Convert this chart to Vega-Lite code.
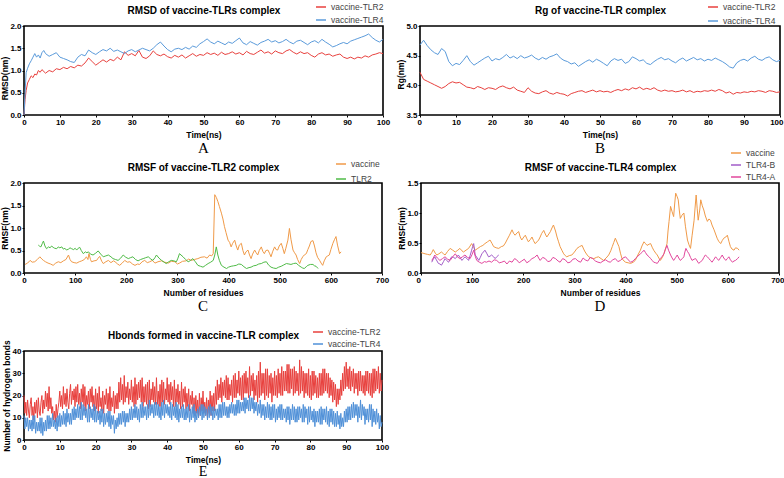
{
  "$schema": "https://vega.github.io/schema/vega-lite/v6.json",
  "background": "white",
  "padding": {"left": 0, "top": 0, "right": 0, "bottom": 0},
  "datasets": {
    "rmsdTLR2": [{"t":0,"v":0},{"t":0.3,"v":0.35},{"t":0.6,"v":0.55},{"t":1,"v":0.72},{"t":1.5,"v":0.8},{"t":2,"v":0.88},{"t":2.5,"v":0.84},{"t":3,"v":0.92},{"t":3.5,"v":0.9},{"t":4,"v":1.0},{"t":4.5,"v":0.96},{"t":5,"v":1.02},{"t":6,"v":0.94},{"t":7,"v":1.0},{"t":8,"v":0.97},{"t":9,"v":1.04},{"t":10,"v":1.02},{"t":11,"v":1.07},{"t":12,"v":1.04},{"t":13,"v":1.09},{"t":14,"v":1.06},{"t":15,"v":1.12},{"t":16,"v":1.1},{"t":17,"v":1.17},{"t":18,"v":1.28},{"t":19,"v":1.2},{"t":20,"v":1.12},{"t":21,"v":1.18},{"t":22,"v":1.24},{"t":23,"v":1.19},{"t":24,"v":1.25},{"t":25,"v":1.22},{"t":26,"v":1.3},{"t":27,"v":1.24},{"t":28,"v":1.42},{"t":29,"v":1.34},{"t":30,"v":1.38},{"t":31,"v":1.33},{"t":32,"v":1.45},{"t":33,"v":1.3},{"t":34,"v":1.27},{"t":35,"v":1.33},{"t":36,"v":1.44},{"t":37,"v":1.36},{"t":38,"v":1.33},{"t":39,"v":1.37},{"t":40,"v":1.31},{"t":41,"v":1.28},{"t":42,"v":1.34},{"t":43,"v":1.3},{"t":44,"v":1.35},{"t":45,"v":1.28},{"t":46,"v":1.33},{"t":47,"v":1.38},{"t":48,"v":1.32},{"t":49,"v":1.36},{"t":50,"v":1.34},{"t":51,"v":1.4},{"t":52,"v":1.36},{"t":53,"v":1.39},{"t":54,"v":1.34},{"t":55,"v":1.41},{"t":56,"v":1.36},{"t":57,"v":1.38},{"t":58,"v":1.42},{"t":59,"v":1.37},{"t":60,"v":1.4},{"t":61,"v":1.35},{"t":62,"v":1.43},{"t":63,"v":1.38},{"t":64,"v":1.36},{"t":65,"v":1.41},{"t":66,"v":1.46},{"t":67,"v":1.39},{"t":68,"v":1.42},{"t":69,"v":1.37},{"t":70,"v":1.44},{"t":71,"v":1.4},{"t":72,"v":1.38},{"t":73,"v":1.44},{"t":74,"v":1.47},{"t":75,"v":1.41},{"t":76,"v":1.37},{"t":77,"v":1.42},{"t":78,"v":1.38},{"t":79,"v":1.4},{"t":80,"v":1.34},{"t":81,"v":1.3},{"t":82,"v":1.37},{"t":83,"v":1.4},{"t":84,"v":1.35},{"t":85,"v":1.37},{"t":86,"v":1.32},{"t":87,"v":1.35},{"t":88,"v":1.37},{"t":89,"v":1.3},{"t":90,"v":1.27},{"t":91,"v":1.3},{"t":92,"v":1.26},{"t":93,"v":1.3},{"t":94,"v":1.28},{"t":95,"v":1.33},{"t":96,"v":1.3},{"t":97,"v":1.35},{"t":98,"v":1.37},{"t":99,"v":1.4},{"t":100,"v":1.38}],
    "rmsdTLR4": [{"t":0,"v":0},{"t":0.3,"v":0.5},{"t":0.6,"v":0.95},{"t":1,"v":1.05},{"t":1.5,"v":1.15},{"t":2,"v":1.22},{"t":2.5,"v":1.3},{"t":3,"v":1.38},{"t":3.5,"v":1.3},{"t":4,"v":1.35},{"t":4.5,"v":1.28},{"t":5,"v":1.4},{"t":5.5,"v":1.45},{"t":6,"v":1.38},{"t":7,"v":1.32},{"t":8,"v":1.36},{"t":9,"v":1.4},{"t":10,"v":1.3},{"t":11,"v":1.27},{"t":12,"v":1.24},{"t":13,"v":1.2},{"t":14,"v":1.18},{"t":15,"v":1.3},{"t":16,"v":1.36},{"t":17,"v":1.33},{"t":18,"v":1.46},{"t":19,"v":1.4},{"t":20,"v":1.36},{"t":21,"v":1.42},{"t":22,"v":1.47},{"t":23,"v":1.44},{"t":24,"v":1.5},{"t":25,"v":1.43},{"t":26,"v":1.46},{"t":27,"v":1.42},{"t":28,"v":1.38},{"t":29,"v":1.44},{"t":30,"v":1.47},{"t":31,"v":1.42},{"t":32,"v":1.46},{"t":33,"v":1.5},{"t":34,"v":1.47},{"t":35,"v":1.44},{"t":36,"v":1.5},{"t":37,"v":1.58},{"t":38,"v":1.64},{"t":39,"v":1.55},{"t":40,"v":1.47},{"t":41,"v":1.42},{"t":42,"v":1.48},{"t":43,"v":1.5},{"t":44,"v":1.47},{"t":45,"v":1.52},{"t":46,"v":1.48},{"t":47,"v":1.55},{"t":48,"v":1.52},{"t":49,"v":1.6},{"t":50,"v":1.65},{"t":51,"v":1.71},{"t":52,"v":1.64},{"t":53,"v":1.6},{"t":54,"v":1.66},{"t":55,"v":1.62},{"t":56,"v":1.58},{"t":57,"v":1.64},{"t":58,"v":1.61},{"t":59,"v":1.67},{"t":60,"v":1.73},{"t":61,"v":1.62},{"t":62,"v":1.58},{"t":63,"v":1.65},{"t":64,"v":1.61},{"t":65,"v":1.57},{"t":66,"v":1.63},{"t":67,"v":1.66},{"t":68,"v":1.7},{"t":69,"v":1.64},{"t":70,"v":1.67},{"t":71,"v":1.62},{"t":72,"v":1.65},{"t":73,"v":1.7},{"t":74,"v":1.64},{"t":75,"v":1.6},{"t":76,"v":1.66},{"t":77,"v":1.68},{"t":78,"v":1.63},{"t":79,"v":1.58},{"t":80,"v":1.64},{"t":81,"v":1.67},{"t":82,"v":1.62},{"t":83,"v":1.7},{"t":84,"v":1.64},{"t":85,"v":1.59},{"t":86,"v":1.53},{"t":87,"v":1.56},{"t":88,"v":1.6},{"t":89,"v":1.63},{"t":90,"v":1.6},{"t":91,"v":1.66},{"t":92,"v":1.69},{"t":93,"v":1.72},{"t":94,"v":1.75},{"t":95,"v":1.78},{"t":96,"v":1.82},{"t":97,"v":1.74},{"t":98,"v":1.68},{"t":99,"v":1.64},{"t":100,"v":1.7}],
    "rgTLR2": [{"t":0,"v":4.22},{"t":1,"v":4.1},{"t":2,"v":4.07},{"t":3,"v":4.04},{"t":4,"v":4.01},{"t":5,"v":3.98},{"t":6,"v":3.95},{"t":7,"v":3.98},{"t":8,"v":4.03},{"t":9,"v":4.06},{"t":10,"v":4.04},{"t":11,"v":4.05},{"t":12,"v":4.01},{"t":13,"v":3.97},{"t":14,"v":3.96},{"t":15,"v":3.94},{"t":16,"v":3.98},{"t":17,"v":3.96},{"t":18,"v":3.93},{"t":19,"v":3.96},{"t":20,"v":3.95},{"t":21,"v":3.93},{"t":22,"v":3.97},{"t":23,"v":3.99},{"t":24,"v":3.96},{"t":25,"v":3.94},{"t":26,"v":3.97},{"t":27,"v":3.92},{"t":28,"v":3.9},{"t":29,"v":3.88},{"t":30,"v":3.96},{"t":31,"v":3.9},{"t":32,"v":3.87},{"t":33,"v":3.86},{"t":34,"v":3.89},{"t":35,"v":3.91},{"t":36,"v":3.87},{"t":37,"v":3.85},{"t":38,"v":3.88},{"t":39,"v":3.86},{"t":40,"v":3.85},{"t":41,"v":3.82},{"t":42,"v":3.86},{"t":43,"v":3.88},{"t":44,"v":3.9},{"t":45,"v":3.91},{"t":46,"v":3.88},{"t":47,"v":3.9},{"t":48,"v":3.92},{"t":49,"v":3.89},{"t":50,"v":3.91},{"t":51,"v":3.89},{"t":52,"v":3.9},{"t":53,"v":3.88},{"t":54,"v":3.91},{"t":55,"v":3.93},{"t":56,"v":3.91},{"t":57,"v":3.94},{"t":58,"v":3.92},{"t":59,"v":3.96},{"t":60,"v":3.94},{"t":61,"v":3.97},{"t":62,"v":3.93},{"t":63,"v":3.95},{"t":64,"v":3.93},{"t":65,"v":3.96},{"t":66,"v":3.92},{"t":67,"v":3.9},{"t":68,"v":3.92},{"t":69,"v":3.9},{"t":70,"v":3.91},{"t":71,"v":3.89},{"t":72,"v":3.9},{"t":73,"v":3.92},{"t":74,"v":3.89},{"t":75,"v":3.91},{"t":76,"v":3.88},{"t":77,"v":3.9},{"t":78,"v":3.89},{"t":79,"v":3.91},{"t":80,"v":3.9},{"t":81,"v":3.92},{"t":82,"v":3.9},{"t":83,"v":3.93},{"t":84,"v":3.91},{"t":85,"v":3.87},{"t":86,"v":3.89},{"t":87,"v":3.85},{"t":88,"v":3.88},{"t":89,"v":3.87},{"t":90,"v":3.89},{"t":91,"v":3.88},{"t":92,"v":3.9},{"t":93,"v":3.89},{"t":94,"v":3.91},{"t":95,"v":3.9},{"t":96,"v":3.88},{"t":97,"v":3.91},{"t":98,"v":3.9},{"t":99,"v":3.88},{"t":100,"v":3.89}],
    "rgTLR4": [{"t":0,"v":4.68},{"t":1,"v":4.76},{"t":2,"v":4.67},{"t":3,"v":4.6},{"t":4,"v":4.55},{"t":5,"v":4.52},{"t":6,"v":4.62},{"t":7,"v":4.57},{"t":8,"v":4.4},{"t":9,"v":4.33},{"t":10,"v":4.37},{"t":11,"v":4.35},{"t":12,"v":4.42},{"t":13,"v":4.5},{"t":14,"v":4.4},{"t":15,"v":4.34},{"t":16,"v":4.38},{"t":17,"v":4.42},{"t":18,"v":4.46},{"t":19,"v":4.49},{"t":20,"v":4.41},{"t":21,"v":4.45},{"t":22,"v":4.43},{"t":23,"v":4.47},{"t":24,"v":4.52},{"t":25,"v":4.46},{"t":26,"v":4.49},{"t":27,"v":4.45},{"t":28,"v":4.5},{"t":29,"v":4.46},{"t":30,"v":4.48},{"t":31,"v":4.51},{"t":32,"v":4.46},{"t":33,"v":4.43},{"t":34,"v":4.47},{"t":35,"v":4.44},{"t":36,"v":4.48},{"t":37,"v":4.5},{"t":38,"v":4.53},{"t":39,"v":4.46},{"t":40,"v":4.42},{"t":41,"v":4.4},{"t":42,"v":4.36},{"t":43,"v":4.38},{"t":44,"v":4.32},{"t":45,"v":4.36},{"t":46,"v":4.4},{"t":47,"v":4.43},{"t":48,"v":4.39},{"t":49,"v":4.44},{"t":50,"v":4.41},{"t":51,"v":4.37},{"t":52,"v":4.33},{"t":53,"v":4.41},{"t":54,"v":4.45},{"t":55,"v":4.42},{"t":56,"v":4.44},{"t":57,"v":4.37},{"t":58,"v":4.4},{"t":59,"v":4.48},{"t":60,"v":4.45},{"t":61,"v":4.41},{"t":62,"v":4.43},{"t":63,"v":4.37},{"t":64,"v":4.35},{"t":65,"v":4.4},{"t":66,"v":4.44},{"t":67,"v":4.47},{"t":68,"v":4.43},{"t":69,"v":4.45},{"t":70,"v":4.41},{"t":71,"v":4.38},{"t":72,"v":4.43},{"t":73,"v":4.46},{"t":74,"v":4.41},{"t":75,"v":4.44},{"t":76,"v":4.47},{"t":77,"v":4.43},{"t":78,"v":4.45},{"t":79,"v":4.41},{"t":80,"v":4.44},{"t":81,"v":4.42},{"t":82,"v":4.46},{"t":83,"v":4.43},{"t":84,"v":4.4},{"t":85,"v":4.36},{"t":86,"v":4.31},{"t":87,"v":4.29},{"t":88,"v":4.38},{"t":89,"v":4.42},{"t":90,"v":4.44},{"t":91,"v":4.41},{"t":92,"v":4.46},{"t":93,"v":4.49},{"t":94,"v":4.44},{"t":95,"v":4.42},{"t":96,"v":4.46},{"t":97,"v":4.48},{"t":98,"v":4.43},{"t":99,"v":4.4},{"t":100,"v":4.42}],
    "rmsfVac2": [{"r":2,"v":0.19},{"r":7,"v":0.22},{"r":12,"v":0.28},{"r":16,"v":0.24},{"r":21,"v":0.25},{"r":26,"v":0.3},{"r":31,"v":0.36},{"r":35,"v":0.31},{"r":38,"v":0.28},{"r":42,"v":0.25},{"r":47,"v":0.22},{"r":52,"v":0.2},{"r":57,"v":0.17},{"r":62,"v":0.22},{"r":67,"v":0.25},{"r":72,"v":0.23},{"r":77,"v":0.27},{"r":82,"v":0.3},{"r":87,"v":0.4},{"r":90,"v":0.3},{"r":93,"v":0.25},{"r":98,"v":0.23},{"r":103,"v":0.22},{"r":108,"v":0.25},{"r":113,"v":0.27},{"r":118,"v":0.3},{"r":122,"v":0.36},{"r":125,"v":0.3},{"r":127,"v":0.43},{"r":130,"v":0.3},{"r":132,"v":0.25},{"r":137,"v":0.27},{"r":142,"v":0.28},{"r":145,"v":0.33},{"r":148,"v":0.37},{"r":152,"v":0.26},{"r":155,"v":0.21},{"r":160,"v":0.25},{"r":165,"v":0.28},{"r":170,"v":0.23},{"r":175,"v":0.27},{"r":178,"v":0.25},{"r":183,"v":0.2},{"r":187,"v":0.17},{"r":192,"v":0.22},{"r":197,"v":0.28},{"r":202,"v":0.24},{"r":207,"v":0.25},{"r":212,"v":0.2},{"r":217,"v":0.17},{"r":222,"v":0.2},{"r":226,"v":0.19},{"r":231,"v":0.25},{"r":236,"v":0.28},{"r":241,"v":0.23},{"r":246,"v":0.25},{"r":251,"v":0.28},{"r":256,"v":0.22},{"r":262,"v":0.25},{"r":269,"v":0.27},{"r":275,"v":0.24},{"r":282,"v":0.22},{"r":288,"v":0.26},{"r":295,"v":0.25},{"r":300,"v":0.2},{"r":304,"v":0.22},{"r":310,"v":0.26},{"r":317,"v":0.27},{"r":322,"v":0.31},{"r":327,"v":0.28},{"r":333,"v":0.3},{"r":340,"v":0.32},{"r":346,"v":0.35},{"r":353,"v":0.36},{"r":358,"v":0.33},{"r":363,"v":0.4},{"r":367,"v":0.38},{"r":370,"v":0.43},{"r":373,"v":1.74},{"r":376,"v":1.68},{"r":379,"v":1.59},{"r":382,"v":1.48},{"r":386,"v":1.33},{"r":389,"v":1.2},{"r":392,"v":1.03},{"r":395,"v":0.9},{"r":399,"v":0.73},{"r":402,"v":0.68},{"r":405,"v":0.58},{"r":408,"v":0.66},{"r":412,"v":0.73},{"r":415,"v":0.6},{"r":418,"v":0.51},{"r":421,"v":0.62},{"r":425,"v":0.66},{"r":428,"v":0.5},{"r":431,"v":0.4},{"r":434,"v":0.47},{"r":438,"v":0.51},{"r":441,"v":0.4},{"r":444,"v":0.32},{"r":447,"v":0.42},{"r":451,"v":0.51},{"r":454,"v":0.45},{"r":457,"v":0.4},{"r":460,"v":0.5},{"r":464,"v":0.58},{"r":467,"v":0.48},{"r":470,"v":0.43},{"r":473,"v":0.5},{"r":477,"v":0.51},{"r":480,"v":0.44},{"r":483,"v":0.36},{"r":486,"v":0.47},{"r":490,"v":0.58},{"r":493,"v":0.52},{"r":496,"v":0.51},{"r":499,"v":0.6},{"r":503,"v":0.66},{"r":506,"v":0.55},{"r":509,"v":0.43},{"r":512,"v":0.55},{"r":516,"v":0.73},{"r":519,"v":0.99},{"r":522,"v":0.75},{"r":526,"v":0.51},{"r":529,"v":0.45},{"r":532,"v":0.4},{"r":535,"v":0.3},{"r":539,"v":0.21},{"r":542,"v":0.3},{"r":545,"v":0.36},{"r":548,"v":0.4},{"r":552,"v":0.43},{"r":555,"v":0.52},{"r":558,"v":0.6},{"r":561,"v":0.7},{"r":565,"v":0.72},{"r":568,"v":0.6},{"r":571,"v":0.45},{"r":574,"v":0.35},{"r":578,"v":0.28},{"r":581,"v":0.22},{"r":584,"v":0.17},{"r":587,"v":0.27},{"r":591,"v":0.36},{"r":594,"v":0.38},{"r":597,"v":0.4},{"r":600,"v":0.52},{"r":604,"v":0.66},{"r":607,"v":0.74},{"r":610,"v":0.81},{"r":613,"v":0.62},{"r":617,"v":0.43},{"r":620,"v":0.47}],
    "rmsfTLR2": [{"r":28,"v":0.62},{"r":30,"v":0.6},{"r":33,"v":0.58},{"r":36,"v":0.66},{"r":38,"v":0.71},{"r":41,"v":0.6},{"r":44,"v":0.54},{"r":48,"v":0.58},{"r":51,"v":0.56},{"r":54,"v":0.6},{"r":57,"v":0.57},{"r":60,"v":0.55},{"r":64,"v":0.54},{"r":67,"v":0.58},{"r":70,"v":0.56},{"r":74,"v":0.58},{"r":77,"v":0.53},{"r":80,"v":0.55},{"r":83,"v":0.51},{"r":87,"v":0.53},{"r":90,"v":0.56},{"r":93,"v":0.54},{"r":97,"v":0.52},{"r":100,"v":0.55},{"r":103,"v":0.51},{"r":106,"v":0.55},{"r":109,"v":0.57},{"r":112,"v":0.5},{"r":116,"v":0.43},{"r":120,"v":0.47},{"r":123,"v":0.45},{"r":126,"v":0.47},{"r":130,"v":0.42},{"r":135,"v":0.4},{"r":140,"v":0.44},{"r":145,"v":0.49},{"r":150,"v":0.42},{"r":155,"v":0.36},{"r":160,"v":0.38},{"r":165,"v":0.4},{"r":170,"v":0.36},{"r":174,"v":0.32},{"r":179,"v":0.3},{"r":184,"v":0.28},{"r":189,"v":0.33},{"r":194,"v":0.4},{"r":199,"v":0.35},{"r":204,"v":0.32},{"r":208,"v":0.34},{"r":213,"v":0.36},{"r":218,"v":0.3},{"r":223,"v":0.27},{"r":228,"v":0.3},{"r":233,"v":0.32},{"r":238,"v":0.34},{"r":243,"v":0.36},{"r":248,"v":0.31},{"r":252,"v":0.28},{"r":256,"v":0.34},{"r":259,"v":0.4},{"r":264,"v":0.33},{"r":269,"v":0.28},{"r":274,"v":0.24},{"r":278,"v":0.21},{"r":283,"v":0.25},{"r":288,"v":0.28},{"r":293,"v":0.27},{"r":298,"v":0.25},{"r":301,"v":0.33},{"r":304,"v":0.43},{"r":307,"v":0.4},{"r":311,"v":0.36},{"r":316,"v":0.3},{"r":321,"v":0.25},{"r":326,"v":0.28},{"r":330,"v":0.32},{"r":335,"v":0.25},{"r":340,"v":0.17},{"r":345,"v":0.15},{"r":350,"v":0.13},{"r":355,"v":0.17},{"r":360,"v":0.21},{"r":365,"v":0.24},{"r":370,"v":0.28},{"r":373,"v":0.4},{"r":376,"v":0.58},{"r":379,"v":0.4},{"r":382,"v":0.28},{"r":386,"v":0.17},{"r":391,"v":0.13},{"r":396,"v":0.1},{"r":400,"v":0.13},{"r":405,"v":0.15},{"r":410,"v":0.16},{"r":415,"v":0.17},{"r":420,"v":0.2},{"r":425,"v":0.19},{"r":430,"v":0.14},{"r":435,"v":0.1},{"r":440,"v":0.12},{"r":444,"v":0.13},{"r":449,"v":0.16},{"r":454,"v":0.17},{"r":459,"v":0.2},{"r":464,"v":0.21},{"r":469,"v":0.24},{"r":474,"v":0.25},{"r":478,"v":0.18},{"r":483,"v":0.13},{"r":488,"v":0.11},{"r":493,"v":0.1},{"r":498,"v":0.13},{"r":503,"v":0.15},{"r":508,"v":0.18},{"r":513,"v":0.21},{"r":518,"v":0.2},{"r":522,"v":0.19},{"r":527,"v":0.21},{"r":532,"v":0.22},{"r":537,"v":0.17},{"r":542,"v":0.13},{"r":545,"v":0.11},{"r":548,"v":0.1},{"r":552,"v":0.14},{"r":555,"v":0.17},{"r":560,"v":0.19},{"r":565,"v":0.19},{"r":568,"v":0.16},{"r":571,"v":0.15},{"r":575,"v":0.1}],
    "rmsfVac4": [{"r":0,"v":0.34},{"r":4,"v":0.33},{"r":8,"v":0.32},{"r":13,"v":0.31},{"r":18,"v":0.3},{"r":21,"v":0.34},{"r":24,"v":0.39},{"r":28,"v":0.33},{"r":31,"v":0.3},{"r":35,"v":0.32},{"r":40,"v":0.35},{"r":44,"v":0.32},{"r":47,"v":0.3},{"r":52,"v":0.36},{"r":57,"v":0.41},{"r":62,"v":0.38},{"r":67,"v":0.35},{"r":72,"v":0.38},{"r":76,"v":0.41},{"r":80,"v":0.37},{"r":83,"v":0.35},{"r":88,"v":0.38},{"r":93,"v":0.41},{"r":96,"v":0.45},{"r":99,"v":0.49},{"r":103,"v":0.43},{"r":106,"v":0.38},{"r":111,"v":0.41},{"r":116,"v":0.44},{"r":121,"v":0.46},{"r":125,"v":0.49},{"r":130,"v":0.52},{"r":135,"v":0.55},{"r":139,"v":0.49},{"r":142,"v":0.44},{"r":147,"v":0.42},{"r":152,"v":0.41},{"r":157,"v":0.44},{"r":161,"v":0.45},{"r":165,"v":0.5},{"r":168,"v":0.55},{"r":173,"v":0.63},{"r":178,"v":0.72},{"r":181,"v":0.66},{"r":184,"v":0.63},{"r":188,"v":0.67},{"r":191,"v":0.69},{"r":194,"v":0.6},{"r":197,"v":0.55},{"r":201,"v":0.6},{"r":204,"v":0.63},{"r":207,"v":0.57},{"r":210,"v":0.52},{"r":214,"v":0.56},{"r":217,"v":0.6},{"r":220,"v":0.54},{"r":223,"v":0.49},{"r":227,"v":0.52},{"r":230,"v":0.55},{"r":233,"v":0.6},{"r":236,"v":0.66},{"r":240,"v":0.71},{"r":243,"v":0.65},{"r":246,"v":0.6},{"r":250,"v":0.65},{"r":253,"v":0.69},{"r":256,"v":0.75},{"r":259,"v":0.8},{"r":263,"v":0.7},{"r":266,"v":0.6},{"r":269,"v":0.52},{"r":272,"v":0.44},{"r":276,"v":0.37},{"r":279,"v":0.32},{"r":282,"v":0.29},{"r":285,"v":0.27},{"r":290,"v":0.29},{"r":295,"v":0.3},{"r":300,"v":0.35},{"r":305,"v":0.41},{"r":310,"v":0.44},{"r":315,"v":0.46},{"r":318,"v":0.4},{"r":321,"v":0.35},{"r":325,"v":0.3},{"r":328,"v":0.27},{"r":333,"v":0.25},{"r":338,"v":0.24},{"r":343,"v":0.26},{"r":347,"v":0.27},{"r":352,"v":0.24},{"r":357,"v":0.21},{"r":362,"v":0.25},{"r":367,"v":0.3},{"r":371,"v":0.37},{"r":374,"v":0.44},{"r":377,"v":0.51},{"r":380,"v":0.58},{"r":384,"v":0.5},{"r":387,"v":0.44},{"r":390,"v":0.33},{"r":393,"v":0.24},{"r":397,"v":0.2},{"r":400,"v":0.18},{"r":405,"v":0.17},{"r":410,"v":0.16},{"r":415,"v":0.18},{"r":419,"v":0.21},{"r":424,"v":0.3},{"r":429,"v":0.38},{"r":432,"v":0.45},{"r":436,"v":0.52},{"r":439,"v":0.49},{"r":442,"v":0.46},{"r":446,"v":0.48},{"r":449,"v":0.49},{"r":452,"v":0.43},{"r":455,"v":0.38},{"r":459,"v":0.33},{"r":462,"v":0.3},{"r":465,"v":0.25},{"r":468,"v":0.21},{"r":472,"v":0.26},{"r":475,"v":0.32},{"r":478,"v":0.4},{"r":481,"v":0.49},{"r":483,"v":0.7},{"r":485,"v":0.86},{"r":488,"v":1.11},{"r":491,"v":1.02},{"r":494,"v":0.94},{"r":496,"v":1.15},{"r":498,"v":1.33},{"r":501,"v":1.27},{"r":503,"v":1.22},{"r":505,"v":1.05},{"r":507,"v":0.91},{"r":510,"v":0.96},{"r":514,"v":1.0},{"r":517,"v":0.78},{"r":521,"v":0.55},{"r":524,"v":0.47},{"r":527,"v":0.41},{"r":530,"v":0.62},{"r":534,"v":0.88},{"r":536,"v":1.1},{"r":538,"v":1.3},{"r":540,"v":1.08},{"r":542,"v":0.88},{"r":545,"v":1.05},{"r":547,"v":1.22},{"r":550,"v":1.12},{"r":553,"v":1.05},{"r":556,"v":0.95},{"r":560,"v":0.86},{"r":563,"v":0.9},{"r":566,"v":0.88},{"r":569,"v":0.8},{"r":573,"v":0.72},{"r":576,"v":0.65},{"r":579,"v":0.58},{"r":582,"v":0.53},{"r":586,"v":0.49},{"r":589,"v":0.54},{"r":592,"v":0.58},{"r":596,"v":0.6},{"r":599,"v":0.63},{"r":602,"v":0.53},{"r":605,"v":0.44},{"r":608,"v":0.4},{"r":612,"v":0.38},{"r":615,"v":0.42},{"r":619,"v":0.41},{"r":622,"v":0.38}],
    "rmsfTLR4B": [{"r":21,"v":0.18},{"r":24,"v":0.23},{"r":27,"v":0.27},{"r":30,"v":0.22},{"r":34,"v":0.16},{"r":37,"v":0.15},{"r":40,"v":0.13},{"r":44,"v":0.19},{"r":47,"v":0.24},{"r":50,"v":0.21},{"r":54,"v":0.18},{"r":57,"v":0.23},{"r":60,"v":0.27},{"r":64,"v":0.26},{"r":67,"v":0.24},{"r":70,"v":0.27},{"r":73,"v":0.3},{"r":77,"v":0.25},{"r":80,"v":0.21},{"r":83,"v":0.24},{"r":86,"v":0.27},{"r":90,"v":0.24},{"r":93,"v":0.21},{"r":96,"v":0.29},{"r":99,"v":0.38},{"r":101,"v":0.44},{"r":103,"v":0.49},{"r":106,"v":0.3},{"r":110,"v":0.25},{"r":113,"v":0.21},{"r":116,"v":0.26},{"r":119,"v":0.32},{"r":122,"v":0.35},{"r":125,"v":0.38},{"r":129,"v":0.32},{"r":132,"v":0.27},{"r":135,"v":0.28},{"r":138,"v":0.3},{"r":142,"v":0.27},{"r":145,"v":0.24},{"r":148,"v":0.27},{"r":152,"v":0.3}],
    "rmsfTLR4A": [{"r":21,"v":0.21},{"r":24,"v":0.25},{"r":27,"v":0.3},{"r":32,"v":0.25},{"r":37,"v":0.21},{"r":42,"v":0.24},{"r":47,"v":0.27},{"r":52,"v":0.23},{"r":57,"v":0.21},{"r":62,"v":0.27},{"r":67,"v":0.32},{"r":71,"v":0.27},{"r":76,"v":0.24},{"r":81,"v":0.27},{"r":86,"v":0.3},{"r":91,"v":0.26},{"r":96,"v":0.24},{"r":100,"v":0.31},{"r":103,"v":0.38},{"r":106,"v":0.28},{"r":109,"v":0.21},{"r":114,"v":0.18},{"r":119,"v":0.16},{"r":124,"v":0.19},{"r":128,"v":0.18},{"r":133,"v":0.2},{"r":138,"v":0.18},{"r":143,"v":0.22},{"r":148,"v":0.21},{"r":153,"v":0.17},{"r":158,"v":0.18},{"r":163,"v":0.2},{"r":168,"v":0.15},{"r":173,"v":0.2},{"r":178,"v":0.18},{"r":183,"v":0.24},{"r":187,"v":0.22},{"r":192,"v":0.17},{"r":197,"v":0.2},{"r":202,"v":0.23},{"r":207,"v":0.17},{"r":212,"v":0.2},{"r":217,"v":0.24},{"r":222,"v":0.26},{"r":227,"v":0.3},{"r":230,"v":0.25},{"r":233,"v":0.21},{"r":238,"v":0.26},{"r":243,"v":0.24},{"r":248,"v":0.19},{"r":253,"v":0.2},{"r":258,"v":0.26},{"r":263,"v":0.24},{"r":268,"v":0.2},{"r":272,"v":0.18},{"r":277,"v":0.24},{"r":282,"v":0.22},{"r":287,"v":0.17},{"r":292,"v":0.18},{"r":297,"v":0.23},{"r":302,"v":0.24},{"r":307,"v":0.2},{"r":312,"v":0.18},{"r":317,"v":0.25},{"r":321,"v":0.22},{"r":326,"v":0.2},{"r":331,"v":0.26},{"r":336,"v":0.24},{"r":341,"v":0.2},{"r":346,"v":0.18},{"r":351,"v":0.17},{"r":356,"v":0.2},{"r":361,"v":0.22},{"r":366,"v":0.19},{"r":370,"v":0.18},{"r":375,"v":0.22},{"r":380,"v":0.24},{"r":385,"v":0.19},{"r":390,"v":0.21},{"r":395,"v":0.25},{"r":400,"v":0.27},{"r":405,"v":0.22},{"r":410,"v":0.18},{"r":415,"v":0.2},{"r":419,"v":0.24},{"r":424,"v":0.28},{"r":429,"v":0.32},{"r":433,"v":0.35},{"r":436,"v":0.38},{"r":439,"v":0.34},{"r":442,"v":0.3},{"r":446,"v":0.27},{"r":449,"v":0.24},{"r":452,"v":0.21},{"r":455,"v":0.18},{"r":459,"v":0.17},{"r":462,"v":0.16},{"r":465,"v":0.2},{"r":468,"v":0.24},{"r":472,"v":0.28},{"r":475,"v":0.32},{"r":478,"v":0.4},{"r":481,"v":0.46},{"r":484,"v":0.38},{"r":488,"v":0.3},{"r":491,"v":0.25},{"r":494,"v":0.21},{"r":498,"v":0.26},{"r":501,"v":0.3},{"r":504,"v":0.25},{"r":507,"v":0.21},{"r":511,"v":0.24},{"r":514,"v":0.27},{"r":516,"v":0.35},{"r":518,"v":0.41},{"r":521,"v":0.36},{"r":524,"v":0.32},{"r":527,"v":0.26},{"r":530,"v":0.21},{"r":534,"v":0.23},{"r":537,"v":0.24},{"r":540,"v":0.2},{"r":543,"v":0.16},{"r":547,"v":0.19},{"r":550,"v":0.21},{"r":553,"v":0.26},{"r":556,"v":0.3},{"r":560,"v":0.27},{"r":563,"v":0.24},{"r":566,"v":0.21},{"r":569,"v":0.18},{"r":573,"v":0.23},{"r":576,"v":0.27},{"r":579,"v":0.24},{"r":582,"v":0.21},{"r":586,"v":0.26},{"r":589,"v":0.3},{"r":592,"v":0.25},{"r":596,"v":0.21},{"r":599,"v":0.24},{"r":602,"v":0.27},{"r":605,"v":0.22},{"r":609,"v":0.18},{"r":612,"v":0.2},{"r":615,"v":0.21},{"r":619,"v":0.24},{"r":622,"v":0.27}],
    "hbTLR2": [{"t":0,"v":20},{"t":0.25,"v":12},{"t":0.5,"v":17},{"t":0.75,"v":11},{"t":1,"v":18},{"t":1.25,"v":13},{"t":1.5,"v":10},{"t":1.75,"v":16},{"t":2,"v":19},{"t":2.25,"v":11},{"t":2.5,"v":15},{"t":2.75,"v":9},{"t":3,"v":17},{"t":3.25,"v":12},{"t":3.5,"v":18},{"t":3.75,"v":10},{"t":4,"v":19},{"t":4.25,"v":13},{"t":4.5,"v":11},{"t":4.75,"v":17},{"t":5,"v":20},{"t":5.25,"v":12},{"t":5.5,"v":18},{"t":5.75,"v":14},{"t":6,"v":22},{"t":6.25,"v":15},{"t":6.5,"v":21},{"t":6.75,"v":13},{"t":7,"v":24},{"t":7.25,"v":14},{"t":7.5,"v":19},{"t":7.75,"v":12},{"t":8,"v":15},{"t":8.25,"v":9},{"t":8.5,"v":13},{"t":8.75,"v":8},{"t":9,"v":16},{"t":9.25,"v":10},{"t":9.5,"v":14},{"t":9.75,"v":17},{"t":10,"v":22},{"t":10.25,"v":15},{"t":10.5,"v":20},{"t":10.75,"v":14},{"t":11,"v":24},{"t":11.25,"v":16},{"t":11.5,"v":21},{"t":11.75,"v":15},{"t":12,"v":23},{"t":12.25,"v":17},{"t":12.5,"v":14},{"t":12.75,"v":21},{"t":13,"v":25},{"t":13.25,"v":16},{"t":13.5,"v":22},{"t":13.75,"v":18},{"t":14,"v":23},{"t":14.25,"v":15},{"t":14.5,"v":24},{"t":14.75,"v":17},{"t":15,"v":25},{"t":15.25,"v":16},{"t":15.5,"v":21},{"t":15.75,"v":14},{"t":16,"v":23},{"t":16.25,"v":17},{"t":16.5,"v":25},{"t":16.75,"v":15},{"t":17,"v":24},{"t":17.25,"v":13},{"t":17.5,"v":20},{"t":17.75,"v":16},{"t":18,"v":22},{"t":18.25,"v":14},{"t":18.5,"v":23},{"t":18.75,"v":17},{"t":19,"v":24},{"t":19.25,"v":15},{"t":19.5,"v":20},{"t":19.75,"v":13},{"t":20,"v":23},{"t":20.25,"v":14},{"t":20.5,"v":21},{"t":20.75,"v":12},{"t":21,"v":24},{"t":21.25,"v":15},{"t":21.5,"v":19},{"t":21.75,"v":13},{"t":22,"v":22},{"t":22.25,"v":12},{"t":22.5,"v":20},{"t":22.75,"v":16},{"t":23,"v":23},{"t":23.25,"v":14},{"t":23.5,"v":21},{"t":23.75,"v":13},{"t":24,"v":24},{"t":24.25,"v":13},{"t":24.5,"v":19},{"t":24.75,"v":15},{"t":25,"v":22},{"t":25.25,"v":12},{"t":25.5,"v":20},{"t":25.75,"v":14},{"t":26,"v":21},{"t":26.25,"v":14},{"t":26.5,"v":26},{"t":26.75,"v":17},{"t":27,"v":28},{"t":27.25,"v":18},{"t":27.5,"v":25},{"t":27.75,"v":16},{"t":28,"v":29},{"t":28.25,"v":17},{"t":28.5,"v":24},{"t":28.75,"v":19},{"t":29,"v":26},{"t":29.25,"v":16},{"t":29.5,"v":23},{"t":29.75,"v":18},{"t":30,"v":27},{"t":30.25,"v":17},{"t":30.5,"v":24},{"t":30.75,"v":15},{"t":31,"v":28},{"t":31.25,"v":16},{"t":31.5,"v":25},{"t":31.75,"v":18},{"t":32,"v":26},{"t":32.25,"v":19},{"t":32.5,"v":27},{"t":32.75,"v":17},{"t":33,"v":28},{"t":33.25,"v":15},{"t":33.5,"v":24},{"t":33.75,"v":17},{"t":34,"v":25},{"t":34.25,"v":16},{"t":34.5,"v":26},{"t":34.75,"v":14},{"t":35,"v":27},{"t":35.25,"v":15},{"t":35.5,"v":23},{"t":35.75,"v":18},{"t":36,"v":26},{"t":36.25,"v":17},{"t":36.5,"v":24},{"t":36.75,"v":16},{"t":37,"v":28},{"t":37.25,"v":16},{"t":37.5,"v":22},{"t":37.75,"v":15},{"t":38,"v":25},{"t":38.25,"v":15},{"t":38.5,"v":27},{"t":38.75,"v":17},{"t":39,"v":26},{"t":39.25,"v":16},{"t":39.5,"v":23},{"t":39.75,"v":18},{"t":40,"v":28},{"t":40.25,"v":17},{"t":40.5,"v":25},{"t":40.75,"v":16},{"t":41,"v":26},{"t":41.25,"v":18},{"t":41.5,"v":24},{"t":41.75,"v":15},{"t":42,"v":27},{"t":42.25,"v":15},{"t":42.5,"v":23},{"t":42.75,"v":17},{"t":43,"v":25},{"t":43.25,"v":16},{"t":43.5,"v":22},{"t":43.75,"v":14},{"t":44,"v":26},{"t":44.25,"v":15},{"t":44.5,"v":23},{"t":44.75,"v":17},{"t":45,"v":24},{"t":45.25,"v":14},{"t":45.5,"v":21},{"t":45.75,"v":15},{"t":46,"v":23},{"t":46.25,"v":13},{"t":46.5,"v":20},{"t":46.75,"v":16},{"t":47,"v":22},{"t":47.25,"v":12},{"t":47.5,"v":19},{"t":47.75,"v":11},{"t":48,"v":20},{"t":48.25,"v":12},{"t":48.5,"v":18},{"t":48.75,"v":10},{"t":49,"v":21},{"t":49.25,"v":11},{"t":49.5,"v":19},{"t":49.75,"v":13},{"t":50,"v":22},{"t":50.25,"v":12},{"t":50.5,"v":17},{"t":50.75,"v":11},{"t":51,"v":19},{"t":51.25,"v":10},{"t":51.5,"v":18},{"t":51.75,"v":12},{"t":52,"v":22},{"t":52.25,"v":11},{"t":52.5,"v":20},{"t":52.75,"v":13},{"t":53,"v":21},{"t":53.25,"v":13},{"t":53.5,"v":24},{"t":53.75,"v":16},{"t":54,"v":27},{"t":54.25,"v":18},{"t":54.5,"v":25},{"t":54.75,"v":19},{"t":55,"v":28},{"t":55.25,"v":17},{"t":55.5,"v":26},{"t":55.75,"v":20},{"t":56,"v":27},{"t":56.25,"v":19},{"t":56.5,"v":29},{"t":56.75,"v":18},{"t":57,"v":28},{"t":57.25,"v":18},{"t":57.5,"v":25},{"t":57.75,"v":20},{"t":58,"v":27},{"t":58.25,"v":17},{"t":58.5,"v":29},{"t":58.75,"v":19},{"t":59,"v":30},{"t":59.25,"v":19},{"t":59.5,"v":27},{"t":59.75,"v":21},{"t":60,"v":31},{"t":60.25,"v":20},{"t":60.5,"v":28},{"t":60.75,"v":18},{"t":61,"v":29},{"t":61.25,"v":18},{"t":61.5,"v":30},{"t":61.75,"v":21},{"t":62,"v":31},{"t":62.25,"v":21},{"t":62.5,"v":28},{"t":62.75,"v":19},{"t":63,"v":33},{"t":63.25,"v":20},{"t":63.5,"v":29},{"t":63.75,"v":22},{"t":64,"v":30},{"t":64.25,"v":18},{"t":64.5,"v":27},{"t":64.75,"v":20},{"t":65,"v":29},{"t":65.25,"v":17},{"t":65.5,"v":31},{"t":65.75,"v":19},{"t":66,"v":35},{"t":66.25,"v":20},{"t":66.5,"v":30},{"t":66.75,"v":21},{"t":67,"v":30},{"t":67.25,"v":18},{"t":67.5,"v":32},{"t":67.75,"v":20},{"t":68,"v":32},{"t":68.25,"v":19},{"t":68.5,"v":29},{"t":68.75,"v":21},{"t":69,"v":30},{"t":69.25,"v":17},{"t":69.5,"v":28},{"t":69.75,"v":20},{"t":70,"v":31},{"t":70.25,"v":20},{"t":70.5,"v":29},{"t":70.75,"v":19},{"t":71,"v":32},{"t":71.25,"v":21},{"t":71.5,"v":30},{"t":71.75,"v":20},{"t":72,"v":33},{"t":72.25,"v":20},{"t":72.5,"v":31},{"t":72.75,"v":22},{"t":73,"v":31},{"t":73.25,"v":22},{"t":73.5,"v":34},{"t":73.75,"v":21},{"t":74,"v":34},{"t":74.25,"v":21},{"t":74.5,"v":32},{"t":74.75,"v":23},{"t":75,"v":32},{"t":75.25,"v":20},{"t":75.5,"v":33},{"t":75.75,"v":21},{"t":76,"v":31},{"t":76.25,"v":22},{"t":76.5,"v":30},{"t":76.75,"v":20},{"t":77,"v":36},{"t":77.25,"v":21},{"t":77.5,"v":33},{"t":77.75,"v":22},{"t":78,"v":31},{"t":78.25,"v":19},{"t":78.5,"v":30},{"t":78.75,"v":21},{"t":79,"v":30},{"t":79.25,"v":20},{"t":79.5,"v":32},{"t":79.75,"v":19},{"t":80,"v":29},{"t":80.25,"v":18},{"t":80.5,"v":31},{"t":80.75,"v":20},{"t":81,"v":31},{"t":81.25,"v":21},{"t":81.5,"v":29},{"t":81.75,"v":19},{"t":82,"v":28},{"t":82.25,"v":19},{"t":82.5,"v":30},{"t":82.75,"v":20},{"t":83,"v":30},{"t":83.25,"v":20},{"t":83.5,"v":32},{"t":83.75,"v":21},{"t":84,"v":32},{"t":84.25,"v":22},{"t":84.5,"v":30},{"t":84.75,"v":21},{"t":85,"v":30},{"t":85.25,"v":19},{"t":85.5,"v":28},{"t":85.75,"v":20},{"t":86,"v":27},{"t":86.25,"v":17},{"t":86.5,"v":26},{"t":86.75,"v":18},{"t":87,"v":25},{"t":87.25,"v":15},{"t":87.5,"v":23},{"t":87.75,"v":16},{"t":88,"v":23},{"t":88.25,"v":18},{"t":88.5,"v":27},{"t":88.75,"v":20},{"t":89,"v":30},{"t":89.25,"v":22},{"t":89.5,"v":33},{"t":89.75,"v":23},{"t":90,"v":35},{"t":90.25,"v":24},{"t":90.5,"v":32},{"t":90.75,"v":23},{"t":91,"v":33},{"t":91.25,"v":22},{"t":91.5,"v":31},{"t":91.75,"v":24},{"t":92,"v":32},{"t":92.25,"v":21},{"t":92.5,"v":30},{"t":92.75,"v":23},{"t":93,"v":30},{"t":93.25,"v":20},{"t":93.5,"v":31},{"t":93.75,"v":22},{"t":94,"v":31},{"t":94.25,"v":22},{"t":94.5,"v":29},{"t":94.75,"v":21},{"t":95,"v":29},{"t":95.25,"v":20},{"t":95.5,"v":31},{"t":95.75,"v":22},{"t":96,"v":31},{"t":96.25,"v":21},{"t":96.5,"v":30},{"t":96.75,"v":20},{"t":97,"v":30},{"t":97.25,"v":19},{"t":97.5,"v":32},{"t":97.75,"v":21},{"t":98,"v":32},{"t":98.25,"v":22},{"t":98.5,"v":31},{"t":98.75,"v":23},{"t":99,"v":33},{"t":99.25,"v":21},{"t":99.5,"v":30},{"t":99.75,"v":22},{"t":100,"v":27}],
    "hbTLR4": [{"t":0,"v":11},{"t":0.25,"v":5},{"t":0.5,"v":10},{"t":0.75,"v":6},{"t":1,"v":10},{"t":1.25,"v":4},{"t":1.5,"v":9},{"t":1.75,"v":5},{"t":2,"v":9},{"t":2.25,"v":4},{"t":2.5,"v":11},{"t":2.75,"v":5},{"t":3,"v":11},{"t":3.25,"v":3},{"t":3.5,"v":8},{"t":3.75,"v":4},{"t":4,"v":8},{"t":4.25,"v":4},{"t":4.5,"v":10},{"t":4.75,"v":3},{"t":5,"v":10},{"t":5.25,"v":2},{"t":5.5,"v":8},{"t":5.75,"v":4},{"t":6,"v":9},{"t":6.25,"v":4},{"t":6.5,"v":11},{"t":6.75,"v":5},{"t":7,"v":11},{"t":7.25,"v":5},{"t":7.5,"v":10},{"t":7.75,"v":6},{"t":8,"v":12},{"t":8.25,"v":6},{"t":8.5,"v":9},{"t":8.75,"v":5},{"t":9,"v":10},{"t":9.25,"v":4},{"t":9.5,"v":11},{"t":9.75,"v":6},{"t":10,"v":12},{"t":10.25,"v":6},{"t":10.5,"v":11},{"t":10.75,"v":7},{"t":11,"v":13},{"t":11.25,"v":7},{"t":11.5,"v":12},{"t":11.75,"v":6},{"t":12,"v":14},{"t":12.25,"v":8},{"t":12.5,"v":12},{"t":12.75,"v":7},{"t":13,"v":12},{"t":13.25,"v":7},{"t":13.5,"v":14},{"t":13.75,"v":9},{"t":14,"v":15},{"t":14.25,"v":9},{"t":14.5,"v":14},{"t":14.75,"v":10},{"t":15,"v":16},{"t":15.25,"v":10},{"t":15.5,"v":15},{"t":15.75,"v":9},{"t":16,"v":17},{"t":16.25,"v":9},{"t":16.5,"v":16},{"t":16.75,"v":11},{"t":17,"v":15},{"t":17.25,"v":10},{"t":17.5,"v":14},{"t":17.75,"v":8},{"t":18,"v":16},{"t":18.25,"v":8},{"t":18.5,"v":15},{"t":18.75,"v":10},{"t":19,"v":14},{"t":19.25,"v":9},{"t":19.5,"v":16},{"t":19.75,"v":8},{"t":20,"v":15},{"t":20.25,"v":8},{"t":20.5,"v":13},{"t":20.75,"v":9},{"t":21,"v":13},{"t":21.25,"v":7},{"t":21.5,"v":14},{"t":21.75,"v":8},{"t":22,"v":14},{"t":22.25,"v":6},{"t":22.5,"v":12},{"t":22.75,"v":7},{"t":23,"v":12},{"t":23.25,"v":8},{"t":23.5,"v":13},{"t":23.75,"v":6},{"t":24,"v":13},{"t":24.25,"v":5},{"t":24.5,"v":11},{"t":24.75,"v":7},{"t":25,"v":11},{"t":25.25,"v":3},{"t":25.5,"v":9},{"t":25.75,"v":5},{"t":26,"v":10},{"t":26.25,"v":6},{"t":26.5,"v":12},{"t":26.75,"v":7},{"t":27,"v":12},{"t":27.25,"v":7},{"t":27.5,"v":13},{"t":27.75,"v":8},{"t":28,"v":13},{"t":28.25,"v":6},{"t":28.5,"v":12},{"t":28.75,"v":8},{"t":29,"v":12},{"t":29.25,"v":8},{"t":29.5,"v":14},{"t":29.75,"v":9},{"t":30,"v":15},{"t":30.25,"v":9},{"t":30.5,"v":14},{"t":30.75,"v":10},{"t":31,"v":16},{"t":31.25,"v":10},{"t":31.5,"v":15},{"t":31.75,"v":9},{"t":32,"v":14},{"t":32.25,"v":8},{"t":32.5,"v":16},{"t":32.75,"v":10},{"t":33,"v":17},{"t":33.25,"v":10},{"t":33.5,"v":15},{"t":33.75,"v":11},{"t":34,"v":15},{"t":34.25,"v":9},{"t":34.5,"v":16},{"t":34.75,"v":10},{"t":35,"v":18},{"t":35.25,"v":11},{"t":35.5,"v":16},{"t":35.75,"v":12},{"t":36,"v":16},{"t":36.25,"v":10},{"t":36.5,"v":17},{"t":36.75,"v":11},{"t":37,"v":17},{"t":37.25,"v":11},{"t":37.5,"v":16},{"t":37.75,"v":10},{"t":38,"v":15},{"t":38.25,"v":9},{"t":38.5,"v":17},{"t":38.75,"v":11},{"t":39,"v":18},{"t":39.25,"v":10},{"t":39.5,"v":16},{"t":39.75,"v":12},{"t":40,"v":16},{"t":40.25,"v":11},{"t":40.5,"v":15},{"t":40.75,"v":10},{"t":41,"v":17},{"t":41.25,"v":9},{"t":41.5,"v":16},{"t":41.75,"v":11},{"t":42,"v":15},{"t":42.25,"v":10},{"t":42.5,"v":17},{"t":42.75,"v":9},{"t":43,"v":16},{"t":43.25,"v":8},{"t":43.5,"v":14},{"t":43.75,"v":10},{"t":44,"v":15},{"t":44.25,"v":10},{"t":44.5,"v":16},{"t":44.75,"v":9},{"t":45,"v":14},{"t":45.25,"v":9},{"t":45.5,"v":15},{"t":45.75,"v":10},{"t":46,"v":16},{"t":46.25,"v":8},{"t":46.5,"v":14},{"t":46.75,"v":9},{"t":47,"v":15},{"t":47.25,"v":10},{"t":47.5,"v":16},{"t":47.75,"v":8},{"t":48,"v":13},{"t":48.25,"v":9},{"t":48.5,"v":14},{"t":48.75,"v":10},{"t":49,"v":15},{"t":49.25,"v":11},{"t":49.5,"v":16},{"t":49.75,"v":9},{"t":50,"v":16},{"t":50.25,"v":10},{"t":50.5,"v":15},{"t":50.75,"v":11},{"t":51,"v":14},{"t":51.25,"v":9},{"t":51.5,"v":15},{"t":51.75,"v":10},{"t":52,"v":16},{"t":52.25,"v":11},{"t":52.5,"v":15},{"t":52.75,"v":9},{"t":53,"v":15},{"t":53.25,"v":10},{"t":53.5,"v":14},{"t":53.75,"v":11},{"t":54,"v":14},{"t":54.25,"v":9},{"t":54.5,"v":16},{"t":54.75,"v":10},{"t":55,"v":16},{"t":55.25,"v":10},{"t":55.5,"v":17},{"t":55.75,"v":11},{"t":56,"v":17},{"t":56.25,"v":11},{"t":56.5,"v":15},{"t":56.75,"v":10},{"t":57,"v":15},{"t":57.25,"v":10},{"t":57.5,"v":16},{"t":57.75,"v":12},{"t":58,"v":17},{"t":58.25,"v":12},{"t":58.5,"v":16},{"t":58.75,"v":11},{"t":59,"v":16},{"t":59.25,"v":11},{"t":59.5,"v":18},{"t":59.75,"v":12},{"t":60,"v":18},{"t":60.25,"v":12},{"t":60.5,"v":17},{"t":60.75,"v":13},{"t":61,"v":17},{"t":61.25,"v":13},{"t":61.5,"v":19},{"t":61.75,"v":12},{"t":62,"v":19},{"t":62.25,"v":14},{"t":62.5,"v":18},{"t":62.75,"v":13},{"t":63,"v":20},{"t":63.25,"v":13},{"t":63.5,"v":19},{"t":63.75,"v":14},{"t":64,"v":19},{"t":64.25,"v":12},{"t":64.5,"v":17},{"t":64.75,"v":13},{"t":65,"v":17},{"t":65.25,"v":11},{"t":65.5,"v":16},{"t":65.75,"v":12},{"t":66,"v":18},{"t":66.25,"v":10},{"t":66.5,"v":16},{"t":66.75,"v":11},{"t":67,"v":16},{"t":67.25,"v":9},{"t":67.5,"v":15},{"t":67.75,"v":10},{"t":68,"v":17},{"t":68.25,"v":10},{"t":68.5,"v":16},{"t":68.75,"v":9},{"t":69,"v":15},{"t":69.25,"v":9},{"t":69.5,"v":16},{"t":69.75,"v":10},{"t":70,"v":16},{"t":70.25,"v":8},{"t":70.5,"v":14},{"t":70.75,"v":9},{"t":71,"v":15},{"t":71.25,"v":10},{"t":71.5,"v":16},{"t":71.75,"v":9},{"t":72,"v":16},{"t":72.25,"v":9},{"t":72.5,"v":14},{"t":72.75,"v":10},{"t":73,"v":14},{"t":73.25,"v":8},{"t":73.5,"v":15},{"t":73.75,"v":9},{"t":74,"v":15},{"t":74.25,"v":7},{"t":74.5,"v":14},{"t":74.75,"v":9},{"t":75,"v":16},{"t":75.25,"v":9},{"t":75.5,"v":15},{"t":75.75,"v":8},{"t":76,"v":14},{"t":76.25,"v":8},{"t":76.5,"v":15},{"t":76.75,"v":9},{"t":77,"v":15},{"t":77.25,"v":10},{"t":77.5,"v":14},{"t":77.75,"v":8},{"t":78,"v":16},{"t":78.25,"v":8},{"t":78.5,"v":15},{"t":78.75,"v":10},{"t":79,"v":14},{"t":79.25,"v":7},{"t":79.5,"v":15},{"t":79.75,"v":8},{"t":80,"v":15},{"t":80.25,"v":9},{"t":80.5,"v":13},{"t":80.75,"v":8},{"t":81,"v":14},{"t":81.25,"v":6},{"t":81.5,"v":13},{"t":81.75,"v":8},{"t":82,"v":13},{"t":82.25,"v":8},{"t":82.5,"v":14},{"t":82.75,"v":7},{"t":83,"v":15},{"t":83.25,"v":7},{"t":83.5,"v":14},{"t":83.75,"v":9},{"t":84,"v":14},{"t":84.25,"v":8},{"t":84.5,"v":15},{"t":84.75,"v":7},{"t":85,"v":13},{"t":85.25,"v":6},{"t":85.5,"v":14},{"t":85.75,"v":8},{"t":86,"v":14},{"t":86.25,"v":7},{"t":86.5,"v":13},{"t":86.75,"v":6},{"t":87,"v":12},{"t":87.25,"v":6},{"t":87.5,"v":13},{"t":87.75,"v":7},{"t":88,"v":11},{"t":88.25,"v":5},{"t":88.5,"v":12},{"t":88.75,"v":6},{"t":89,"v":10},{"t":89.25,"v":6},{"t":89.5,"v":13},{"t":89.75,"v":8},{"t":90,"v":14},{"t":90.25,"v":8},{"t":90.5,"v":15},{"t":90.75,"v":9},{"t":91,"v":15},{"t":91.25,"v":9},{"t":91.5,"v":16},{"t":91.75,"v":10},{"t":92,"v":17},{"t":92.25,"v":10},{"t":92.5,"v":16},{"t":92.75,"v":11},{"t":93,"v":16},{"t":93.25,"v":8},{"t":93.5,"v":15},{"t":93.75,"v":10},{"t":94,"v":18},{"t":94.25,"v":9},{"t":94.5,"v":16},{"t":94.75,"v":11},{"t":95,"v":15},{"t":95.25,"v":7},{"t":95.5,"v":14},{"t":95.75,"v":9},{"t":96,"v":14},{"t":96.25,"v":8},{"t":96.5,"v":16},{"t":96.75,"v":9},{"t":97,"v":16},{"t":97.25,"v":6},{"t":97.5,"v":14},{"t":97.75,"v":8},{"t":98,"v":13},{"t":98.25,"v":7},{"t":98.5,"v":14},{"t":98.75,"v":8},{"t":99,"v":12},{"t":99.25,"v":5},{"t":99.5,"v":11},{"t":99.75,"v":6},{"t":100,"v":8}]
  },
  "resolve": {"scale": {"color": "independent"}},
  "spacing": -11,
  "vconcat": [
    {
      "hconcat": [
        {
          "width": 359, "height": 89,
          "title": {"text": "A"},
          "encoding": {"y": {"field": "v", "type": "quantitative", "scale": {"domain": [0, 2]}, "axis": {"title": "RMSD(nm)", "values": [0, 0.5, 1, 1.5, 2], "format": ".1f", "titleY": 52}}},
          "resolve": {"axis": {"x": "independent"}},
          "layer": [
            {"data": {"name": "rmsdTLR2"}, "mark": {"type": "line", "strokeWidth": 1},
             "encoding": {
               "x": {"field": "t", "type": "quantitative", "scale": {"domain": [0, 100], "nice": false}, "axis": {"orient": "bottom", "title": "Time(ns)", "values": [0,10,20,30,40,50,60,70,80,90,100]}},
               "color": {"datum": "vaccine-TLR2", "type": "nominal", "scale": {"domain": ["vaccine-TLR2", "vaccine-TLR4"], "range": ["#e8413e", "#5b9bdb"]}, "legend": {"title": null, "orient": "none", "legendX": 291, "legendY": -25, "rowPadding": 2}}}},
            {"data": {"name": "rmsdTLR4"}, "mark": {"type": "line", "strokeWidth": 1},
             "encoding": {
               "x": {"field": "t", "type": "quantitative", "scale": {"domain": [0, 100], "nice": false}, "axis": {"orient": "top", "title": "RMSD of vaccine-TLRs complex", "labels": false, "ticks": false, "domain": false, "titleFontSize": 10, "titlePadding": 11, "minExtent": 0}},
               "color": {"datum": "vaccine-TLR4", "type": "nominal"}}}
          ]
        },
        {
          "width": 360, "height": 89,
          "title": {"text": "B"},
          "encoding": {"y": {"field": "v", "type": "quantitative", "scale": {"domain": [3.5, 5]}, "axis": {"title": "Rg(nm)", "values": [3.5, 4, 4.5, 5], "format": ".1f", "titleY": 48}}},
          "resolve": {"axis": {"x": "independent"}},
          "layer": [
            {"data": {"name": "rgTLR2"}, "mark": {"type": "line", "strokeWidth": 1},
             "encoding": {
               "x": {"field": "t", "type": "quantitative", "scale": {"domain": [0, 100], "nice": false}, "axis": {"orient": "bottom", "title": "Time(ns)", "values": [0,10,20,30,40,50,60,70,80,90,100], "labelFlush": true, "labelFlushOffset": 3}},
               "color": {"datum": "vaccine-TLR2", "type": "nominal", "scale": {"domain": ["vaccine-TLR2", "vaccine-TLR4"], "range": ["#e8413e", "#5b9bdb"]}, "legend": {"title": null, "orient": "none", "legendX": 287, "legendY": -25, "rowPadding": 3}}}},
            {"data": {"name": "rgTLR4"}, "mark": {"type": "line", "strokeWidth": 1},
             "encoding": {
               "x": {"field": "t", "type": "quantitative", "scale": {"domain": [0, 100], "nice": false}, "axis": {"orient": "top", "title": "Rg of vaccine-TLR complex", "labels": false, "ticks": false, "domain": false, "titleFontSize": 10, "titlePadding": 11, "minExtent": 0}},
               "color": {"datum": "vaccine-TLR4", "type": "nominal"}}}
          ]
        }
      ],
      "spacing": 37,
      "bounds": "flush",
      "resolve": {"scale": {"color": "independent"}}
    },
    {
      "vconcat": [
        {
          "hconcat": [
            {
              "width": 358, "height": 90,
              "title": {"text": "C"},
              "encoding": {"y": {"field": "v", "type": "quantitative", "scale": {"domain": [0, 2]}, "axis": {"title": "RMSF(nm)", "values": [0, 0.5, 1, 1.5, 2], "format": ".1f"}}},
              "resolve": {"axis": {"x": "independent"}},
              "layer": [
                {"data": {"name": "rmsfVac2"}, "mark": {"type": "line", "strokeWidth": 1},
                 "encoding": {
                   "x": {"field": "r", "type": "quantitative", "scale": {"domain": [0, 700], "nice": false}, "axis": {"orient": "bottom", "title": "Number of residues", "values": [0,100,200,300,400,500,600,700]}},
                   "color": {"datum": "vaccine", "type": "nominal", "scale": {"domain": ["vaccine", "TLR2"], "range": ["#f09a48", "#4fbb47"]}, "legend": {"title": null, "orient": "none", "legendX": 311, "legendY": -25, "rowPadding": 4}}}},
                {"data": {"name": "rmsfTLR2"}, "mark": {"type": "line", "strokeWidth": 1},
                 "encoding": {
                   "x": {"field": "r", "type": "quantitative", "scale": {"domain": [0, 700], "nice": false}, "axis": {"orient": "top", "title": "RMSF of vaccine-TLR2 complex", "labels": false, "ticks": false, "domain": false, "titleFontSize": 10, "titlePadding": 11, "minExtent": 0}},
                   "color": {"datum": "TLR2", "type": "nominal"}}}
              ]
            },
            {
              "width": 358, "height": 90,
              "title": {"text": "D"},
              "encoding": {"y": {"field": "v", "type": "quantitative", "scale": {"domain": [0, 1.5]}, "axis": {"title": "RMSF(nm)", "values": [0, 0.5, 1, 1.5], "format": ".1f"}}},
              "resolve": {"axis": {"x": "independent"}},
              "layer": [
                {"data": {"name": "rmsfVac4"}, "mark": {"type": "line", "strokeWidth": 1},
                 "encoding": {
                   "x": {"field": "r", "type": "quantitative", "scale": {"domain": [0, 700], "nice": false}, "axis": {"orient": "bottom", "title": "Number of residues", "values": [0,100,200,300,400,500,600,700], "labelFlush": true, "labelFlushOffset": 5}},
                   "color": {"datum": "vaccine", "type": "nominal", "scale": {"domain": ["vaccine", "TLR4-B", "TLR4-A"], "range": ["#f09a48", "#a25cc8", "#e2479d"]}, "legend": {"title": null, "orient": "none", "legendX": 309, "legendY": -36, "rowPadding": 1}}}},
                {"data": {"name": "rmsfTLR4B"}, "mark": {"type": "line", "strokeWidth": 1},
                 "encoding": {
                   "x": {"field": "r", "type": "quantitative", "scale": {"domain": [0, 700], "nice": false}, "axis": {"orient": "top", "title": "RMSF of vaccine-TLR4 complex", "labels": false, "ticks": false, "domain": false, "titleFontSize": 10, "titlePadding": 11, "minExtent": 0}},
                   "color": {"datum": "TLR4-B", "type": "nominal"}}},
                {"data": {"name": "rmsfTLR4A"}, "mark": {"type": "line", "strokeWidth": 1},
                 "encoding": {
                   "x": {"field": "r", "type": "quantitative", "scale": {"domain": [0, 700], "nice": false}, "axis": null},
                   "color": {"datum": "TLR4-A", "type": "nominal"}}}
              ]
            }
          ],
          "spacing": 39,
          "bounds": "flush",
          "resolve": {"scale": {"color": "independent"}}
        },
        {
          "width": 358, "height": 89,
          "title": {"text": "E", "fontSize": 14, "offset": 1},
          "encoding": {"y": {"field": "v", "type": "quantitative", "scale": {"domain": [0, 40]}, "axis": {"title": "Number of hydrogen bonds", "values": [0, 10, 20, 30, 40], "titlePadding": 1}}},
          "resolve": {"axis": {"x": "independent"}},
          "layer": [
            {"data": {"name": "hbTLR2"}, "mark": {"type": "line", "strokeWidth": 1},
             "encoding": {
               "x": {"field": "t", "type": "quantitative", "scale": {"domain": [0, 100], "nice": false}, "axis": {"orient": "bottom", "title": "Time(ns)", "values": [0,10,20,30,40,50,60,70,80,90,100]}},
               "color": {"datum": "vaccine-TLR2", "type": "nominal", "scale": {"domain": ["vaccine-TLR2", "vaccine-TLR4"], "range": ["#e8403d", "#4f90d8"]}, "legend": {"title": null, "orient": "none", "legendX": 288, "legendY": -25, "rowPadding": 1}}}},
            {"data": {"name": "hbTLR4"}, "mark": {"type": "line", "strokeWidth": 1},
             "encoding": {
               "x": {"field": "t", "type": "quantitative", "scale": {"domain": [0, 100], "nice": false}, "axis": {"orient": "top", "title": "Hbonds formed in vaccine-TLR complex", "labels": false, "ticks": false, "domain": false, "titleFontSize": 10, "titlePadding": 11, "minExtent": 0}},
               "color": {"datum": "vaccine-TLR4", "type": "nominal"}}}
          ]
        }
      ],
      "spacing": 10,
      "resolve": {"scale": {"color": "independent"}}
    }
  ],
  "config": {
    "view": {"stroke": "#000", "strokeWidth": 1.6},
    "axis": {
      "domain": false, "grid": false, "ticks": true, "tickColor": "#000", "tickSize": 2, "labelPadding": 1,
      "labelFont": "Liberation Sans", "labelFontWeight": "bold", "labelFontSize": 8, "labelColor": "#000",
      "titleFont": "Liberation Sans", "titleFontWeight": "bold", "titleFontSize": 8.5, "titleColor": "#000"
    },
    "axisX": {"titlePadding": 4, "labelFlush": false},
    "axisY": {"titlePadding": 0, "labelFlush": false},
    "legend": {
      "symbolType": "stroke", "symbolSize": 100, "symbolStrokeWidth": 1.5, "padding": 0, "labelOffset": 4,
      "labelFont": "Liberation Sans", "labelFontSize": 8.5, "labelColor": "#444"
    },
    "title": {
      "orient": "bottom", "anchor": "middle", "frame": "group", "offset": 2,
      "font": "Liberation Serif", "fontSize": 15, "fontWeight": "normal", "color": "#000"
    }
  }
}
